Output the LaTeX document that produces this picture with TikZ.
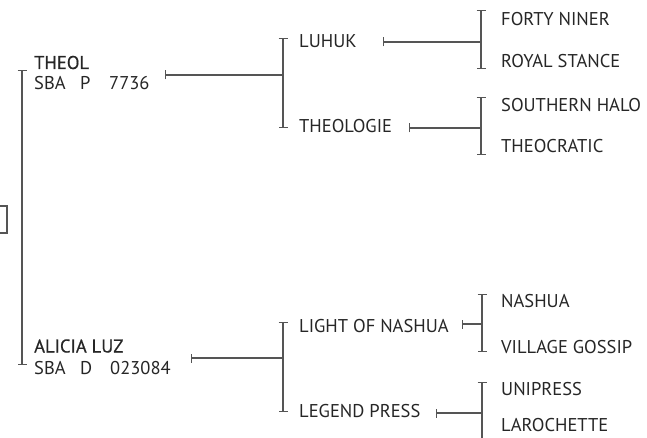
\documentclass[tikz,border=0pt]{standalone}
\usepackage{fontspec}
\setmainfont{PT Sans}
\newfontfamily\semib[FakeBold=0.6]{PT Sans}
\usetikzlibrary{arrows.meta}
\definecolor{txt}{HTML}{262626}
\definecolor{ln}{HTML}{555555}
\begin{document}
\begin{tikzpicture}[x=1pt,y=-1pt,
  lbl/.style={anchor=base west,inner sep=0pt,font=\fontsize{18.5}{22}\selectfont,text=txt},
  nm/.style={lbl,font=\fontsize{18.5}{22}\selectfont\semib},
  brk/.style={draw=ln,line width=1.2pt,{Bar[width=9pt]}-{Bar[width=9pt]}},
  con/.style={draw=ln,line width=1.2pt,{Bar[width=9pt]}-},
  box/.style={draw=ln,line width=1.2pt}
]
\useasboundingbox (0,0) rectangle (647,438);
\clip (0,0) rectangle (647,438);

% subject box (cut off)
\draw[box] (-10,206) rectangle (7,233);

% generation 1
\coordinate (b1t) at (22,70);
\coordinate (b1b) at (22,365);
\draw[brk] (b1t) -- (b1b);

\node[nm] (sire) at (34,69) {THEOL};
\node[lbl] (sireid) at (34,90) {\makebox[46pt][l]{SBA}\makebox[29pt][l]{P}7736};
\node[nm] (dam) at (34,352.5) {ALICIA LUZ};
\node[lbl] (damid) at (34,374) {\makebox[46pt][l]{SBA}\makebox[30pt][l]{D}023084};

% generation 2
\coordinate (b2t) at (283,38);
\coordinate (b2b) at (283,128);
\draw[brk] (b2t) -- (b2b);
\coordinate (c1) at (165,75);
\draw[con] (c1) -- (c1 -| b2t);

\coordinate (b3t) at (283,322);
\coordinate (b3b) at (283,412);
\draw[brk] (b3t) -- (b3b);
\coordinate (c2) at (191,358);
\draw[con] (c2) -- (c2 -| b3t);

\node[lbl] (ss) at (299,48) {LUHUK};
\node[lbl] (sd) at (299,133) {THEOLOGIE};
\node[lbl] (ds) at (299,332) {LIGHT OF NASHUA};
\node[lbl] (dd) at (299,417) {LEGEND PRESS};

% generation 3
\coordinate (b4t) at (481,10);
\coordinate (b4b) at (481,69);
\draw[brk] (b4t) -- (b4b);
\coordinate (c3) at (383,42);
\draw[con] (c3) -- (c3 -| b4t);

\coordinate (b5t) at (481,97);
\coordinate (b5b) at (481,155);
\draw[brk] (b5t) -- (b5b);
\coordinate (c4) at (409,128);
\draw[con] (c4) -- (c4 -| b5t);

\coordinate (b6t) at (482,294);
\coordinate (b6b) at (482,352);
\draw[brk] (b6t) -- (b6b);
\coordinate (c5) at (462,324);
\draw[con] (c5) -- (c5 -| b6t);

\coordinate (b7t) at (482,382);
\coordinate (b7b) at (482,470);
\draw[brk] (b7t) -- (b7b);
\coordinate (c6) at (436,413);
\draw[con] (c6) -- (c6 -| b7t);

\node[lbl] (sss) at (501,26) {FORTY NINER};
\node[lbl] (ssd) at (501,68) {ROYAL STANCE};
\node[lbl] (sds) at (501,112) {SOUTHERN HALO};
\node[lbl] (sdd) at (501,153) {THEOCRATIC};
\node[lbl] (dss) at (501,307) {NASHUA};
\node[lbl] (dsd) at (501,353) {VILLAGE GOSSIP};
\node[lbl] (dds) at (501,395) {UNIPRESS};
\node[lbl] (ddd) at (501,431.5) {LAROCHETTE};
\end{tikzpicture}
\end{document}
